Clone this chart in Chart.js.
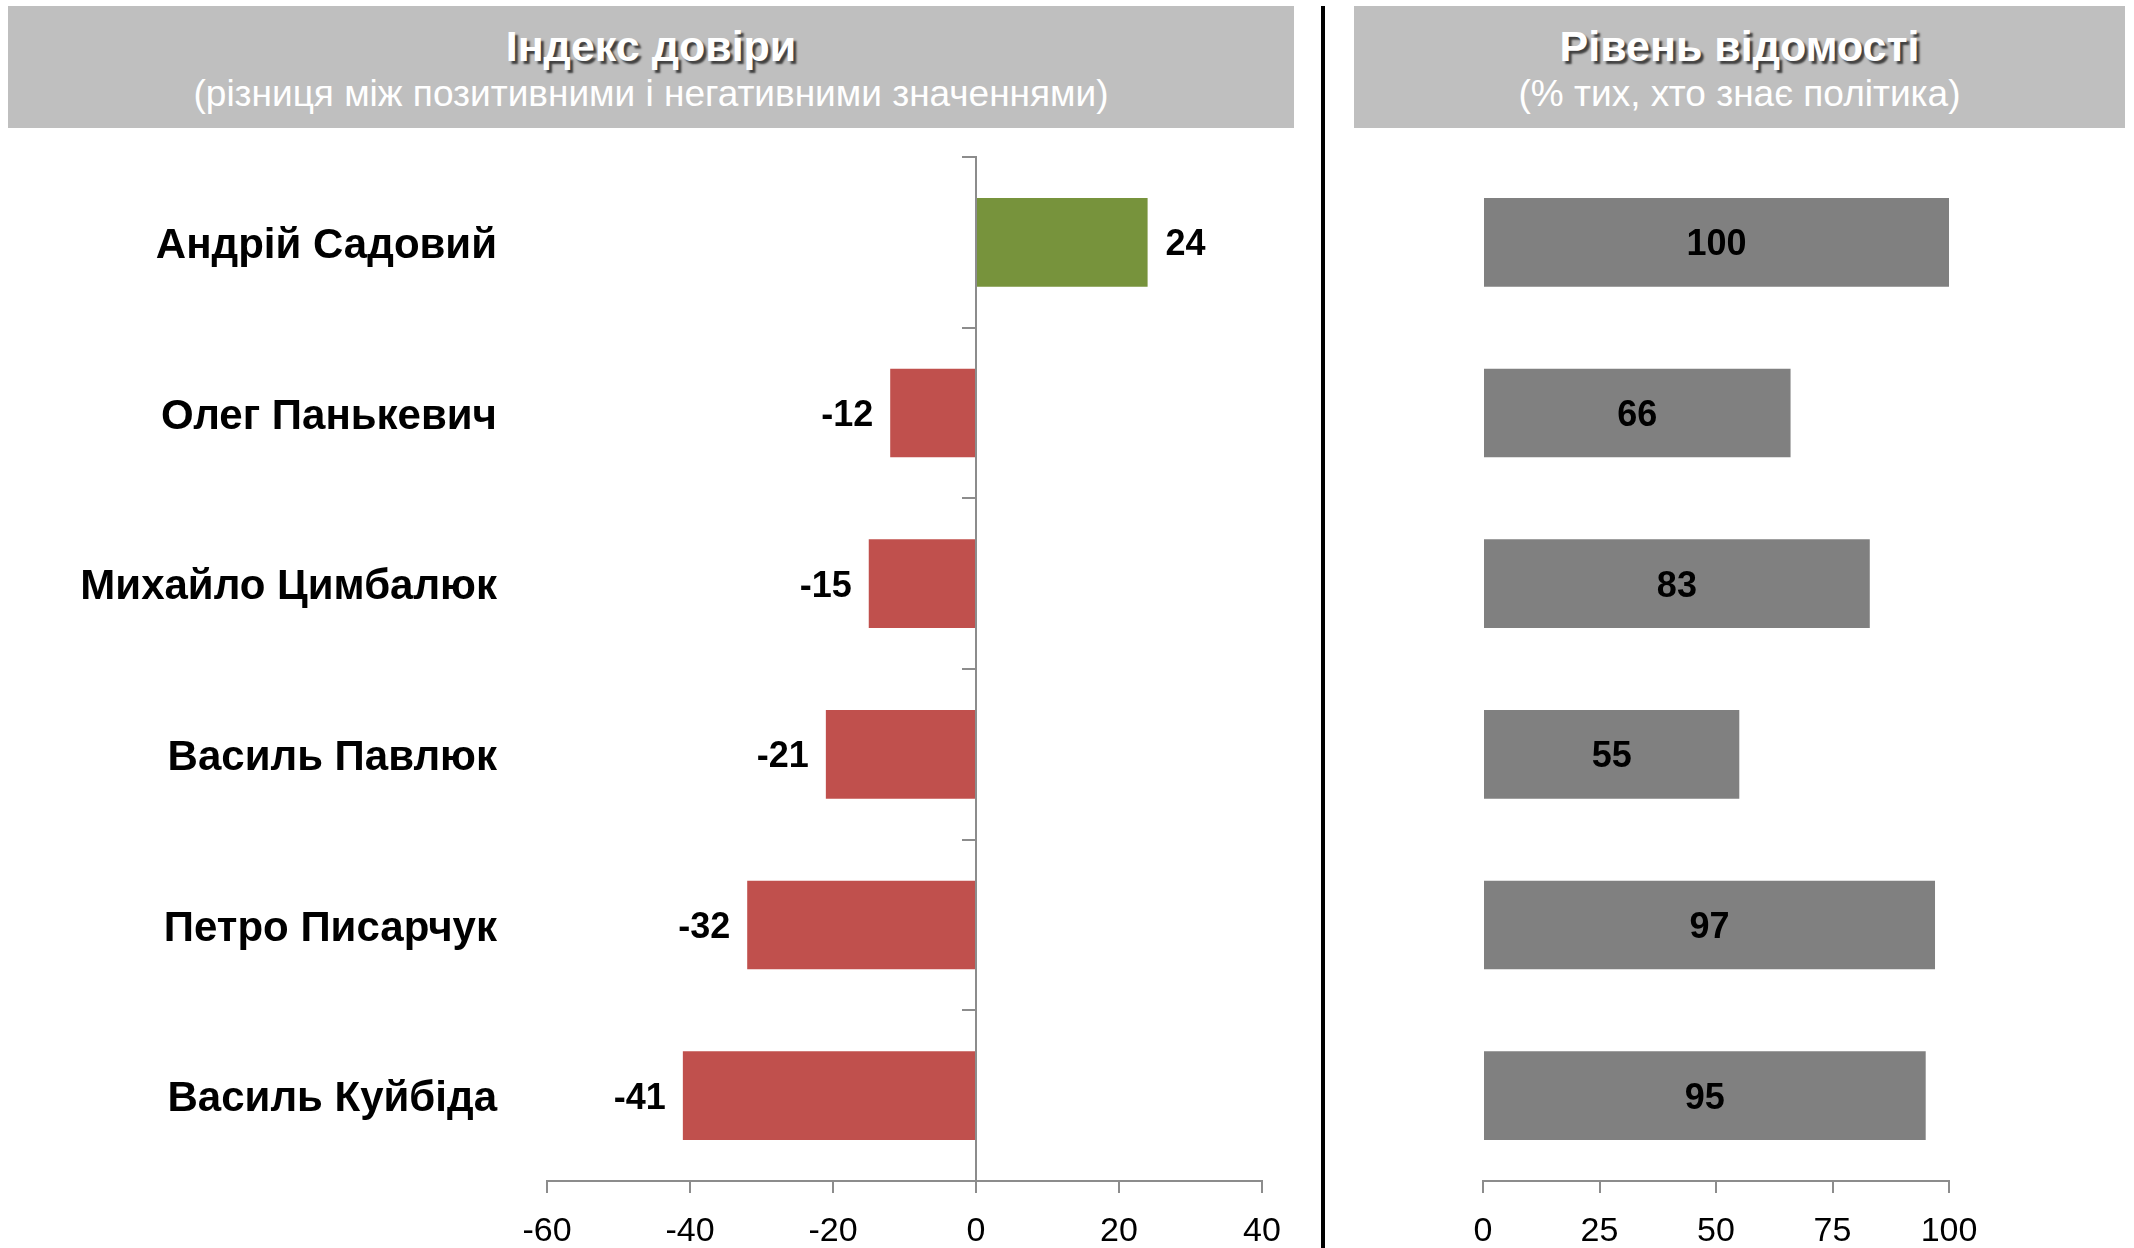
<!DOCTYPE html>
<html>
<head>
<meta charset="utf-8">
<script src="https://cdn.jsdelivr.net/npm/chart.js@4.4.1/dist/chart.umd.min.js"></script>
<style>
  body { margin: 0; width: 2134px; height: 1248px; background: #fff; position: relative; overflow: hidden;
         font-family: "Liberation Sans", Arial, sans-serif; }
  .head { position: absolute; top: 6px; height: 122px; background: #bfbfbf; color: #fff; text-align: center; }
  .head .t { font-weight: bold; font-size: 43px; margin-top: 17px; line-height: 46px;
             text-shadow: 3px 3px 2px #404040; }
  .head .s { font-size: 37px; line-height: 40px; margin-top: 5px; }
  #divider { position: absolute; left: 1321px; top: 6px; width: 4px; height: 1242px; background: #000; }
  canvas { position: absolute; top: 0; }
</style>
</head>
<body>
<div class="head" style="left:8px; width:1286px;">
  <div class="t">Індекс довіри</div>
  <div class="s">(різниця між позитивними і негативними значеннями)</div>
</div>
<div class="head" style="left:1354px; width:771px;">
  <div class="t">Рівень відомості</div>
  <div class="s">(% тих, хто знає політика)</div>
</div>
<div id="divider"></div>
<canvas id="trust" width="1310" height="1248" style="left:0"></canvas>
<canvas id="aware" width="804" height="1248" style="left:1330px"></canvas>
<script>
// Data
const politicians = ['Андрій Садовий', 'Олег Панькевич', 'Михайло Цимбалюк', 'Василь Павлюк', 'Петро Писарчук', 'Василь Куйбіда'];
const trustIndex = [24, -12, -15, -21, -32, -41];
const awareness = [100, 66, 83, 55, 97, 95];
const trustTicks = [-60, -40, -20, 0, 20, 40];
const awareTicks = [0, 25, 50, 75, 100];

const GREEN = '#77933c';
const RED = '#c0504d';
const GRAY_BAR = '#808080';
const AXIS = '#8c8c8c';
const FONT = '"Liberation Sans", Arial, sans-serif';

// value labels drawn next to / inside the bars
const valueLabels = {
  id: 'valueLabels',
  afterDatasetsDraw(chart, args, opts) {
    const ctx = chart.ctx;
    const meta = chart.getDatasetMeta(0);
    const data = chart.data.datasets[0].data;
    ctx.save();
    ctx.font = 'bold 36px ' + FONT;
    ctx.fillStyle = '#000';
    ctx.textBaseline = 'middle';
    meta.data.forEach((bar, i) => {
      const v = data[i];
      if (opts.inside) {
        ctx.textAlign = 'center';
        ctx.fillText(String(v), (bar.x + bar.base) / 2, bar.y + 3);
      } else if (v >= 0) {
        ctx.textAlign = 'left';
        ctx.fillText(String(v), bar.x + 18, bar.y + 3);
      } else {
        ctx.textAlign = 'right';
        ctx.fillText(String(v), bar.x - 17, bar.y + 3);
      }
    });
    ctx.restore();
  }
};

const xTickFont = { family: FONT, size: 34 };

new Chart(document.getElementById('trust'), {
  type: 'bar',
  data: {
    labels: politicians,
    datasets: [{
      data: trustIndex,
      backgroundColor: trustIndex.map(v => v >= 0 ? GREEN : RED),
      barPercentage: 0.52,
      categoryPercentage: 1
    }]
  },
  options: {
    indexAxis: 'y',
    responsive: false,
    devicePixelRatio: 1,
    animation: false,
    layout: { padding: { top: 157, right: 48, bottom: 0, left: 0 } },
    plugins: { legend: { display: false }, tooltip: { enabled: false }, valueLabels: { inside: false } },
    scales: {
      x: {
        min: -60, max: 40,
        afterBuildTicks: s => { s.ticks = trustTicks.map(v => ({ value: v })); },
        afterFit: s => { s.height = 67; },
        grid: { drawOnChartArea: false, drawTicks: true, tickLength: 12, color: AXIS, lineWidth: 2 },
        border: { display: true, color: AXIS, width: 2 },
        ticks: { font: xTickFont, color: '#000', padding: 18, maxRotation: 0 }
      },
      y: {
        afterFit: s => { s.width = 547; s.paddingTop = 0; s.paddingBottom = 0; },
        grid: { display: false },
        border: { display: false },
        ticks: { font: { family: FONT, size: 42, weight: 'bold' }, color: '#000', padding: 42, labelOffset: 4 }
      },
      y2: {
        type: 'category',
        axis: 'y',
        position: { x: 0 },
        offset: true,
        grid: { offset: true, drawOnChartArea: false, drawTicks: true, tickLength: 13, color: AXIS, lineWidth: 2 },
        border: { display: true, color: AXIS, width: 2 },
        ticks: { callback: () => '' }
      }
    }
  },
  plugins: [valueLabels]
});

new Chart(document.getElementById('aware'), {
  type: 'bar',
  data: {
    labels: politicians,
    datasets: [{
      data: awareness,
      backgroundColor: GRAY_BAR,
      barPercentage: 0.52,
      categoryPercentage: 1
    }]
  },
  options: {
    indexAxis: 'y',
    responsive: false,
    devicePixelRatio: 1,
    animation: false,
    layout: { padding: { top: 157, right: 185, bottom: 0, left: 153 } },
    plugins: { legend: { display: false }, tooltip: { enabled: false }, valueLabels: { inside: true } },
    scales: {
      x: {
        min: 0, max: 100,
        afterBuildTicks: s => { s.ticks = awareTicks.map(v => ({ value: v })); },
        afterFit: s => { s.height = 67; },
        grid: { drawOnChartArea: false, drawTicks: true, tickLength: 12, color: AXIS, lineWidth: 2 },
        border: { display: true, color: AXIS, width: 2 },
        ticks: { font: xTickFont, color: '#000', padding: 18, maxRotation: 0 }
      },
      y: { display: false }
    }
  },
  plugins: [valueLabels]
});
</script>
</body>
</html>
